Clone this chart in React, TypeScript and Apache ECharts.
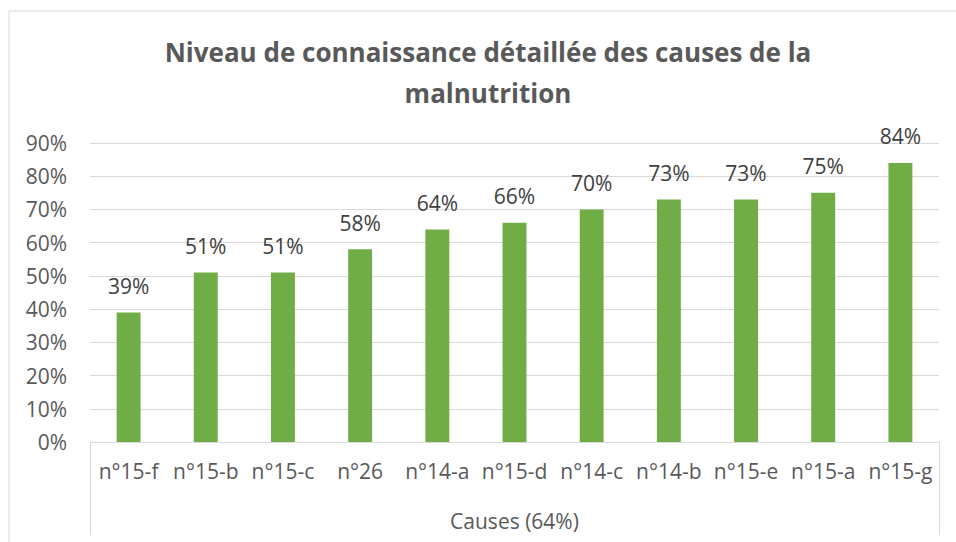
import React, { useEffect, useRef } from "react";
import * as echarts from "echarts";

const categories = ["n°15-f", "n°15-b", "n°15-c", "n°26", "n°14-a", "n°15-d", "n°14-c", "n°14-b", "n°15-e", "n°15-a", "n°15-g"];
const values = [39, 51, 51, 58, 64, 66, 70, 73, 73, 75, 84];
const groupLabel = ["Causes (64%)"];
const titleText = "Niveau de connaissance détaillée des causes de la\nmalnutrition";

const FONT = "'Open Sans', 'Noto Sans', sans-serif";
const GREY = "#595959";

export default function App() {
  const ref = useRef<HTMLDivElement>(null);
  useEffect(() => {
    document.body.style.margin = "0";
    const chart = echarts.init(ref.current!, null, { renderer: "svg" });
    chart.setOption({
      animation: false,
      backgroundColor: "#ffffff",
      textStyle: { fontFamily: FONT },
      title: {
        text: titleText,
        left: 488,
        top: 31,
        padding: 0,
        textAlign: "center",
        textStyle: { fontFamily: FONT, fontSize: 26, fontWeight: "bold", color: GREY, lineHeight: 41 },
      },
      graphic: [
        {
          type: "rect",
          shape: { x: 9, y: 11, width: 1000, height: 600 },
          style: { fill: "none", stroke: "#d9d9d9", lineWidth: 1 },
          silent: true,
        },
      ],
      grid: { left: 90, right: 17, top: 143, bottom: 100, containLabel: false },
      xAxis: [
        {
          type: "category",
          data: categories,
          axisLine: { show: true, lineStyle: { color: "#d9d9d9", width: 1 } },
          axisTick: { show: false },
          axisLabel: { color: GREY, fontSize: 21, margin: 18, fontFamily: FONT, interval: 0 },
        },
        {
          type: "category",
          data: groupLabel,
          position: "bottom",
          offset: 93,
          axisLine: { show: false },
          axisTick: { show: true, inside: true, length: 93, lineStyle: { color: "#d9d9d9", width: 1 } },
          axisLabel: { inside: true, color: GREY, fontSize: 21, margin: 4, fontFamily: FONT },
        },
      ],
      yAxis: {
        type: "value",
        min: 0,
        max: 90,
        interval: 10,
        axisLine: { show: false },
        axisTick: { show: false },
        splitLine: { lineStyle: { color: "#d9d9d9", width: 1 } },
        axisLabel: { color: GREY, fontSize: 21, margin: 23, fontFamily: FONT, formatter: "{value}%" },
      },
      series: [
        {
          type: "bar",
          xAxisIndex: 0,
          data: values,
          barWidth: "31%",
          itemStyle: { color: "#70ad47" },
          label: {
            show: true,
            position: "top",
            distance: 16,
            color: "#404040",
            fontSize: 21,
            fontFamily: FONT,
            formatter: "{c}%",
          },
        },
      ],
    });
    return () => chart.dispose();
  }, []);
  return <div ref={ref} style={{ width: 956, height: 542 }} />;
}
